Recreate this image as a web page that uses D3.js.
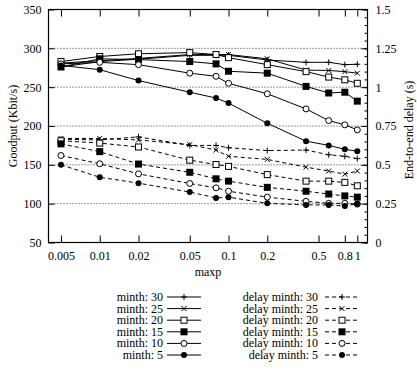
<!DOCTYPE html>
<html>
<head>
<meta charset="utf-8">
<script src="https://cdn.jsdelivr.net/npm/d3@7"></script>
<style>
body { margin:0; background:#fff; }
text { font-family: "Liberation Serif", "Times New Roman", serif; font-size: 12px; fill:#000; }
</style>
</head>
<body>
<svg id="chart" width="417" height="370"></svg>
<script>
const maxp = [0.005, 0.01, 0.02, 0.05, 0.08, 0.1, 0.2, 0.4, 0.6, 0.8, 1];
const xTicks = [0.005, 0.01, 0.02, 0.05, 0.1, 0.2, 0.5, 0.8, 1];
const xTickLabels = ['0.005', '0.01', '0.02', '0.05', '0.1', '0.2', '0.5', '0.8', '1'];
const yTicks = [50, 100, 150, 200, 250, 300, 350];
const y2Ticks = [0, 0.25, 0.5, 0.75, 1, 1.25, 1.5];

// goodput (Kbit/s)
const goodput30 = [276, 283, 286, 291, 291, 291, 285, 282, 282, 279, 279.5];
const goodput25 = [281, 284, 287, 292, 292, 292, 286.5, 272, 271.5, 270, 268];
const goodput20 = [283, 289.5, 293, 294.5, 292, 288, 279, 270, 263, 259.5, 255];
const goodput15 = [276, 286.5, 285.5, 283, 280, 270.5, 268, 251, 242.5, 243.5, 232];
const goodput10 = [280, 282, 279, 268, 264, 255, 241.5, 222, 207, 201.5, 195];
const goodput5  = [278, 272.5, 258.5, 243.5, 236, 229.5, 203.5, 180.5, 175, 170, 167.5];

// end-to-end delay (s)
const delay30 = [0.665, 0.66, 0.68, 0.625, 0.625, 0.61, 0.592, 0.595, 0.565, 0.555, 0.54];
const delay25 = [0.67, 0.67, 0.66, 0.63, 0.595, 0.555, 0.535, 0.485, 0.46, 0.44, 0.46];
const delay20 = [0.655, 0.64, 0.615, 0.53, 0.502, 0.49, 0.437, 0.395, 0.395, 0.387, 0.365];
const delay15 = [0.635, 0.585, 0.505, 0.452, 0.41, 0.395, 0.355, 0.33, 0.312, 0.30, 0.292];
const delay10 = [0.56, 0.507, 0.442, 0.38, 0.352, 0.33, 0.292, 0.265, 0.252, 0.252, 0.247];
const delay5  = [0.50, 0.42, 0.382, 0.325, 0.287, 0.292, 0.252, 0.242, 0.242, 0.235, 0.25];

const minth = [30, 25, 20, 15, 10, 5];
const markers = ['plus', 'cross', 'square', 'fsquare', 'circle', 'fcircle'];
const goodputSeries = [goodput30, goodput25, goodput20, goodput15, goodput10, goodput5];
const delaySeries = [delay30, delay25, delay20, delay15, delay10, delay5];

const svg = d3.select('#chart');
const pLeft = 48.5, pRight = 367.5, pTop = 9.5, pBottom = 242.5;

const xscale = d3.scaleLog().domain([0.004, 1.2]).range([pLeft, pRight]);
const yscale = d3.scaleLinear().domain([50, 350]).range([pBottom, pTop]);
const y2scale = d3.scaleLinear().domain([0, 1.5]).range([pBottom, pTop]);

function drawMarker(g, type, x, y) {
    const s = 3;
    if (type === 'plus') {
        g.append('path').attr('d', `M${x-s},${y}H${x+s}M${x},${y-s}V${y+s}`).attr('stroke', '#000').attr('fill', 'none');
    } else if (type === 'cross') {
        g.append('path').attr('d', `M${x-2.5},${y-2.5}L${x+2.5},${y+2.5}M${x-2.5},${y+2.5}L${x+2.5},${y-2.5}`).attr('stroke', '#000').attr('fill', 'none');
    } else if (type === 'square') {
        g.append('rect').attr('x', x-3).attr('y', y-3).attr('width', 6).attr('height', 6).attr('fill', '#fff').attr('stroke', '#000');
    } else if (type === 'fsquare') {
        g.append('rect').attr('x', x-3.5).attr('y', y-3.5).attr('width', 7).attr('height', 7).attr('fill', '#000');
    } else if (type === 'circle') {
        g.append('circle').attr('cx', x).attr('cy', y).attr('r', 3).attr('fill', '#fff').attr('stroke', '#000');
    } else {
        g.append('circle').attr('cx', x).attr('cy', y).attr('r', 3).attr('fill', '#000');
    }
}

// grid
svg.append('g').selectAll('line').data([100, 150, 200, 250, 300]).enter().append('line')
    .attr('x1', pLeft).attr('x2', pRight)
    .attr('y1', d => yscale(d)).attr('y2', d => yscale(d))
    .attr('stroke', '#000').attr('stroke-width', 0.8).attr('stroke-dasharray', '1,2');

// x ticks (bottom + top, inward)
svg.append('g').attr('transform', `translate(0,${pBottom})`)
    .call(d3.axisBottom(xscale).tickValues(xTicks).tickSize(-7).tickPadding(9)
        .tickFormat((d, i) => xTickLabels[i]));
svg.append('g').attr('transform', `translate(0,${pTop})`)
    .call(d3.axisTop(xscale).tickValues(xTicks).tickSize(-7).tickFormat(''));

// left axis
svg.append('g').attr('transform', `translate(${pLeft},0)`)
    .call(d3.axisLeft(yscale).tickValues(yTicks).tickSize(-6).tickPadding(7));

// right axis with minor ticks
const minor = d3.range(0, 1.5001, 0.05);
svg.append('g').attr('transform', `translate(${pRight},0)`)
    .call(d3.axisRight(y2scale).tickValues(minor).tickSize(-3).tickFormat(''));
svg.append('g').attr('transform', `translate(${pRight},0)`)
    .call(d3.axisRight(y2scale).tickValues(y2Ticks).tickSize(-6).tickPadding(8).tickFormat(d3.format('')));

svg.selectAll('.domain').remove();
svg.selectAll('g').attr('font-family', null).attr('font-size', null);
svg.selectAll('.tick line').attr('stroke', '#000');

svg.append('rect').attr('x', pLeft).attr('y', pTop).attr('width', pRight - pLeft).attr('height', pBottom - pTop)
    .attr('fill', 'none').attr('stroke', '#000').attr('stroke-width', 1.2);

// axis labels
svg.append('text').attr('transform', `translate(17,${(pTop+pBottom)/2}) rotate(-90)`)
    .attr('text-anchor', 'middle').text('Goodput (Kbit/s)');
svg.append('text').attr('transform', `translate(413,${(pTop+pBottom)/2 + 4}) rotate(-90)`)
    .attr('text-anchor', 'middle').text('End-to-end delay (s)');
svg.append('text').attr('x', (pLeft+pRight)/2).attr('y', 276).attr('text-anchor', 'middle').text('maxp');

const plot = svg.append('g');
const lineG = d3.line().x((d, i) => xscale(maxp[i])).y(d => yscale(d));
const lineD = d3.line().x((d, i) => xscale(maxp[i])).y(d => y2scale(d));

delaySeries.forEach(s => {
    plot.append('path').datum(s).attr('d', lineD).attr('fill', 'none')
        .attr('stroke', '#000').attr('stroke-dasharray', '4,3');
});
goodputSeries.forEach(s => {
    plot.append('path').datum(s).attr('d', lineG).attr('fill', 'none').attr('stroke', '#000');
});
delaySeries.forEach((s, k) => {
    s.forEach((v, i) => drawMarker(plot, markers[k], xscale(maxp[i]), y2scale(v)));
});
goodputSeries.forEach((s, k) => {
    s.forEach((v, i) => drawMarker(plot, markers[k], xscale(maxp[i]), yscale(v)));
});

// legend
const legend = svg.append('g');
minth.forEach((m, k) => {
    const y = 297 + k * 11.6;
    legend.append('text').attr('x', 163).attr('y', y + 4).attr('text-anchor', 'end').text(`minth: ${m}`);
    legend.append('line').attr('x1', 167).attr('x2', 201).attr('y1', y).attr('y2', y).attr('stroke', '#000');
    drawMarker(legend, markers[k], 184, y);
    legend.append('text').attr('x', 318).attr('y', y + 4).attr('text-anchor', 'end').text(`delay minth: ${m}`);
    legend.append('line').attr('x1', 325).attr('x2', 360).attr('y1', y).attr('y2', y)
        .attr('stroke', '#000').attr('stroke-dasharray', '4,3');
    drawMarker(legend, markers[k], 342, y);
});
</script>
</body>
</html>
